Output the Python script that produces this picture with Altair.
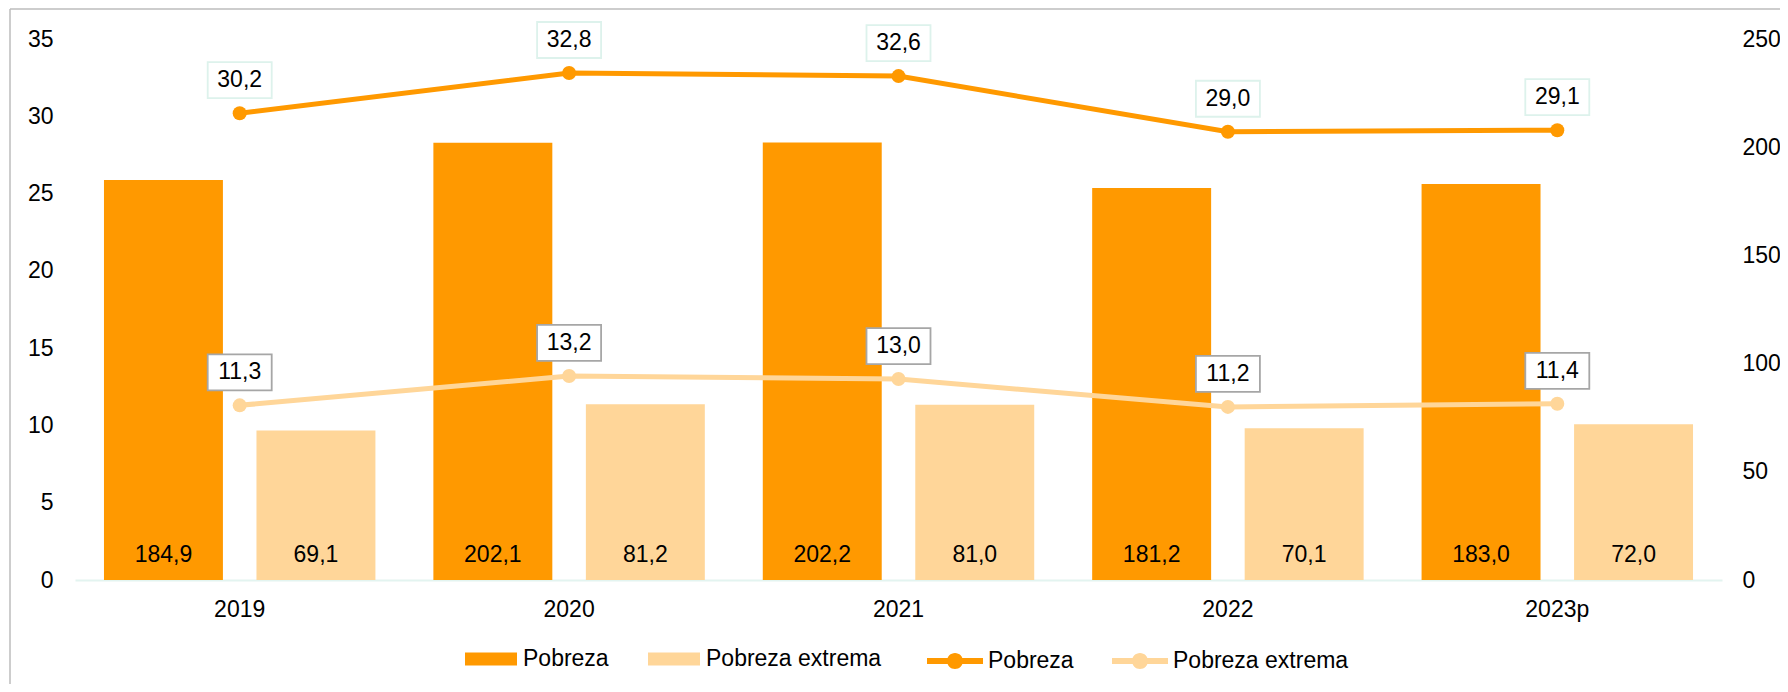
import altair as alt
import pandas as pd

# ---------------- data ----------------
years = ["2019", "2020", "2021", "2022", "2023p"]
series = ["Pobreza", "Pobreza extrema"]
bar_pobreza = [184.9, 202.1, 202.2, 181.2, 183.0]
bar_extrema = [69.1, 81.2, 81.0, 70.1, 72.0]
pct_pobreza = [30.2, 32.8, 32.6, 29.0, 29.1]
pct_extrema = [11.3, 13.2, 13.0, 11.2, 11.4]
left_ticks = [0, 5, 10, 15, 20, 25, 30, 35]
right_ticks = [0, 50, 100, 150, 200, 250]

colors = ["#FF9900", "#FFD699"]
box_strokes = ["#DDF2EC", "#A6A6A6"]
FONT = "Liberation Sans, Arial, sans-serif"

df_bars = pd.DataFrame({
    "year": years * 2,
    "serie": [series[0]] * 5 + [series[1]] * 5,
    "value": bar_pobreza + bar_extrema,
})
df_lines = pd.DataFrame({
    "year": years * 2,
    "serie": [series[0]] * 5 + [series[1]] * 5,
    "pct": pct_pobreza + pct_extrema,
})

fmt = "replace(format(datum.{f}, '.1f'), '.', ',')"

x_axis = alt.Axis(title=None, labelAngle=0, labelFontSize=23, labelColor="black",
                  labelFont=FONT, domainColor="#E3F4F0", domainWidth=2, ticks=False,
                  labelPadding=18, grid=False)
x_scale = alt.Scale(domain=years, paddingInner=0, paddingOuter=0)
x_enc = alt.X("year:N", sort=years, scale=x_scale, axis=x_axis)
xoff = alt.XOffset("serie:N", sort=series,
                   scale=alt.Scale(domain=series, paddingInner=0.22, paddingOuter=0.19))

# ---------------- bars (right axis) ----------------
y_right_scale = alt.Scale(domain=[0, 250], nice=False)
y_right_axis = alt.Axis(orient="right", values=right_ticks, title=None, grid=False,
                        domain=False, ticks=False, labelFontSize=23, labelPadding=20,
                        labelFont=FONT, labelColor="black")

BAR_SYM = "M-1,-0.25L1,-0.25L1,0.25L-1,0.25Z"
bars = alt.Chart(df_bars).mark_bar().encode(
    x=x_enc,
    xOffset=xoff,
    y=alt.Y("value:Q", scale=y_right_scale, axis=y_right_axis),
    color=alt.Color("serie:N", sort=series, scale=alt.Scale(domain=series, range=colors),
                    legend=alt.Legend(title=None, orient="none", direction="horizontal",
                                      legendX=390, legendY=594, symbolType=BAR_SYM,
                                      symbolSize=2704, symbolStrokeWidth=0,
                                      labelFontSize=23, labelFont=FONT, labelColor="black",
                                      labelLimit=400, labelOffset=6, columnPadding=39,
                                      padding=0)),
)
bar_text = alt.Chart(df_bars).transform_calculate(
    zero="0", label=fmt.format(f="value")
).mark_text(fontSize=23, font=FONT, color="black", baseline="middle", dy=-25).encode(
    x=x_enc,
    xOffset=xoff,
    y=alt.Y("zero:Q", scale=y_right_scale, axis=y_right_axis),
    text="label:N",
)
bar_group = alt.layer(bars, bar_text)

# ---------------- lines (left axis) ----------------
y_left = alt.Y("pct:Q", scale=alt.Scale(domain=[0, 35], nice=False),
               axis=alt.Axis(orient="left", values=left_ticks, title=None, grid=False,
                             domain=False, ticks=False, labelFontSize=23, labelPadding=22,
                             labelFont=FONT, labelColor="black"))

LINE_SYM = ("M-1,-0.107L-0.2,-0.107L-0.2,0.107L-1,0.107Z "
            "M0.2,-0.107L1,-0.107L1,0.107L0.2,0.107Z "
            "M-0.286,0A0.286,0.286 0 1 1 0.286,0A0.286,0.286 0 1 1 -0.286,0Z")
lines = alt.Chart(df_lines).mark_line(strokeWidth=5).encode(
    x=x_enc,
    y=y_left,
    color=alt.Color("serie:N", sort=series, scale=alt.Scale(domain=series, range=colors),
                    legend=None),
)
points = alt.Chart(df_lines).mark_circle(size=196, opacity=1).encode(
    x=x_enc,
    y=y_left,
    fill=alt.Fill("serie:N", sort=series, scale=alt.Scale(domain=series, range=colors),
                  legend=alt.Legend(title=None, orient="none", direction="horizontal",
                                    legendX=852, legendY=594, symbolType=LINE_SYM,
                                    symbolSize=3136, symbolStrokeWidth=0,
                                    labelFontSize=23, labelFont=FONT, labelColor="black",
                                    labelLimit=400, labelOffset=5, columnPadding=38,
                                    padding=0)),
)
BOX = "M-1,-0.5625L1,-0.5625L1,0.5625L-1,0.5625Z"
boxes = alt.Chart(df_lines).mark_point(
    shape=BOX, size=4096, filled=False, fill="white", fillOpacity=1, opacity=1,
    strokeWidth=1.8, yOffset=-33
).encode(
    x=x_enc,
    y=y_left,
    stroke=alt.Stroke("serie:N", sort=series,
                      scale=alt.Scale(domain=series, range=box_strokes), legend=None),
)
labels = alt.Chart(df_lines).transform_calculate(
    label=fmt.format(f="pct")
).mark_text(fontSize=23, font=FONT, color="black", baseline="middle", dy=-33).encode(
    x=x_enc,
    y=y_left,
    text="label:N",
)
line_group = alt.layer(lines, points, boxes, labels)

# ---------------- outer frame ----------------
frame_data = alt.Data(values=[{"k": 1}])
frame_left = alt.Chart(frame_data).mark_rule(color="#BDBDBD", strokeWidth=1.5).encode(
    x=alt.value(-65), y=alt.value(-30), y2=alt.value(800))
frame_top = alt.Chart(frame_data).mark_rule(color="#BDBDBD", strokeWidth=1.5).encode(
    x=alt.value(-65), x2=alt.value(1800), y=alt.value(-30))

chart = alt.layer(bar_group, line_group, frame_left, frame_top).resolve_scale(
    y="independent", color="independent"
).properties(
    width=1647, height=541,
    autosize=alt.AutoSizeParams(type="none"),
    padding={"left": 67, "top": 31, "right": 58, "bottom": 104},
).configure_view(stroke=None)

chart.save("out.html", embed_options={"renderer": "svg", "actions": False})
